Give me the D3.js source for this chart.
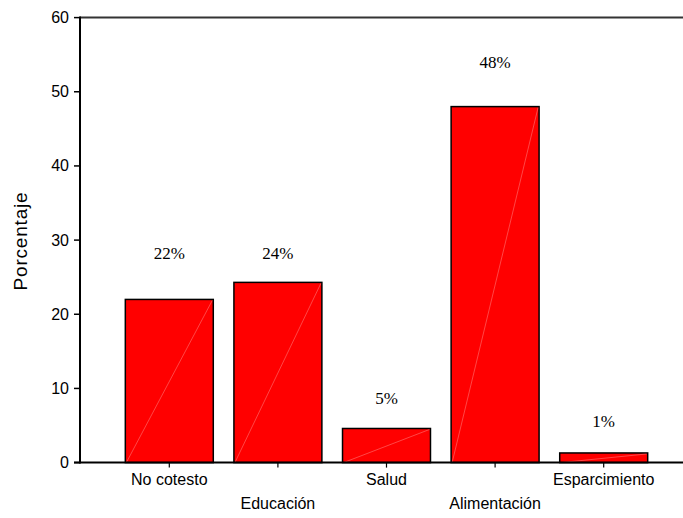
<!DOCTYPE html>
<html>
<head>
<meta charset="utf-8">
<script src="https://cdn.jsdelivr.net/npm/d3@7"></script>
<style>
  body { margin: 0; background: #fff; }
  svg { display: block; }
</style>
</head>
<body>
<svg id="chart" width="683" height="518"></svg>
<script>
// --- data ---
var categories = ["No cotesto", "Educación", "Salud", "Alimentación", "Esparcimiento"];
var values = [22, 24.3, 4.6, 48, 1.3];
var pctLabels = ["22%", "24%", "5%", "48%", "1%"];
// where each % label sits, in axis units
var pctLabelAt = [28.2, 28.2, 8.7, 54, 5.5];
var yTicks = [0, 10, 20, 30, 40, 50, 60];

var svg = d3.select("#chart");

var x = d3.scaleBand()
    .domain(categories)
    .range([115, 658])
    .paddingInner(0.19)
    .paddingOuter(0.095);

var y = d3.scaleLinear()
    .domain([0, 60])
    .range([462.6, 17.6]);

// frame lines
svg.append("line")
    .attr("x1", 80).attr("x2", 683)
    .attr("y1", y(60)).attr("y2", y(60))
    .attr("stroke", "#333").attr("stroke-width", 2);

// bars
var bars = svg.append("g");
categories.forEach(function(c, i) {
    var x0 = x(c), w = x.bandwidth();
    bars.append("rect")
        .attr("x", x0).attr("y", y(values[i]))
        .attr("width", w).attr("height", y(0) - y(values[i]))
        .attr("fill", "#ff0000")
        .attr("stroke", "#000").attr("stroke-width", 1.5);
    // faint diagonal seen in the original fill
    bars.append("line")
        .attr("x1", x0 + 1).attr("y1", y(0))
        .attr("x2", x0 + w - 1).attr("y2", y(values[i]) + 1)
        .attr("stroke", "#fff").attr("stroke-opacity", 0.35)
        .attr("stroke-width", 0.8);
});

// y axis
var yAxis = svg.append("g");
yAxis.append("line")
    .attr("x1", 80).attr("x2", 80)
    .attr("y1", y(60) - 1).attr("y2", y(0) + 1)
    .attr("stroke", "#000").attr("stroke-width", 2);
yTicks.forEach(function(t) {
    yAxis.append("line")
        .attr("x1", 74).attr("x2", 80)
        .attr("y1", y(t)).attr("y2", y(t))
        .attr("stroke", "#000").attr("stroke-width", 1.5);
    yAxis.append("text")
        .attr("x", 69).attr("y", y(t))
        .attr("text-anchor", "end")
        .attr("dominant-baseline", "central")
        .attr("font-family", "Arial, 'Liberation Sans', sans-serif")
        .attr("font-size", 16)
        .text(t);
});

// x axis
var xAxis = svg.append("g");
xAxis.append("line")
    .attr("x1", 74).attr("x2", 683)
    .attr("y1", y(0)).attr("y2", y(0))
    .attr("stroke", "#000").attr("stroke-width", 2);
categories.forEach(function(c, i) {
    var cx = x(c) + x.bandwidth() / 2;
    xAxis.append("line")
        .attr("x1", cx).attr("x2", cx)
        .attr("y1", y(0)).attr("y2", y(0) + 5)
        .attr("stroke", "#000").attr("stroke-width", 1.2);
    xAxis.append("text")
        .attr("x", cx)
        .attr("y", y(0) + (i % 2 === 0 ? 17 : 41))
        .attr("text-anchor", "middle")
        .attr("dominant-baseline", "central")
        .attr("font-family", "Arial, 'Liberation Sans', sans-serif")
        .attr("font-size", 16)
        .text(c);
});

// percentage labels
categories.forEach(function(c, i) {
    svg.append("text")
        .attr("x", x(c) + x.bandwidth() / 2)
        .attr("y", y(pctLabelAt[i]))
        .attr("text-anchor", "middle")
        .attr("dominant-baseline", "central")
        .attr("font-family", "'Times New Roman', 'Liberation Serif', serif")
        .attr("font-size", 17)
        .text(pctLabels[i]);
});

// y title
svg.append("text")
    .attr("transform", "translate(20,241) rotate(-90)")
    .attr("text-anchor", "middle")
    .attr("dominant-baseline", "central")
    .attr("font-family", "Arial, 'Liberation Sans', sans-serif")
    .attr("font-size", 19)
    .attr("letter-spacing", 0.8)
    .text("Porcentaje");
</script>
</body>
</html>
